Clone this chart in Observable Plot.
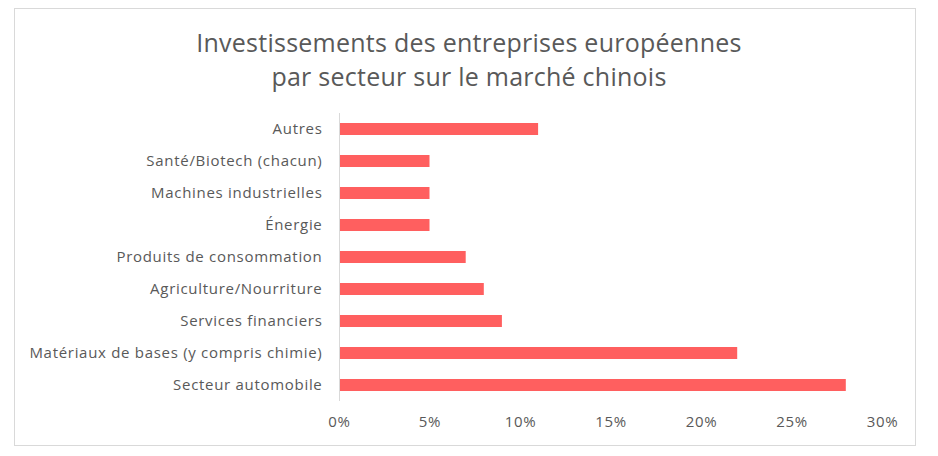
<!DOCTYPE html>
<html>
<head>
<meta charset="utf-8">
<script src="https://cdn.jsdelivr.net/npm/d3@7"></script>
<script src="https://cdn.jsdelivr.net/npm/@observablehq/plot@0.6"></script>
<style>
  html, body { margin: 0; padding: 0; background: #fff; }
  #wrap { position: relative; width: 938px; height: 456px; overflow: hidden; font-family: "Open Sans", sans-serif; }
  #border { position: absolute; left: 14px; top: 8px; width: 902px; height: 438px; border: 1px solid #d9d9d9; box-sizing: border-box; }
  .title { position: absolute; left: 0; width: 938px; text-align: center; color: #595959; font-size: 25px; line-height: 34px; height: 34px; letter-spacing: 0.25px; white-space: nowrap; }
  #t1 { top: 25px; }
  #t2 { top: 59px; }
  #chart { position: absolute; left: 0; top: 100px; }
  #chart svg text { letter-spacing: 0.7px; }
</style>
</head>
<body>
<div id="wrap">
  <div id="border"></div>
  <div class="title" id="t1">Investissements des entreprises européennes</div>
  <div class="title" id="t2">par secteur sur le marché chinois</div>
  <div id="chart"></div>
</div>
<script>
const categories = [
  "Autres",
  "Santé/Biotech (chacun)",
  "Machines industrielles",
  "Énergie",
  "Produits de consommation",
  "Agriculture/Nourriture",
  "Services financiers",
  "Matériaux de bases (y compris chimie)",
  "Secteur automobile"
];
const values = [0.11, 0.05, 0.05, 0.05, 0.07, 0.08, 0.09, 0.22, 0.28];
const xTicks = [0, 0.05, 0.10, 0.15, 0.20, 0.25, 0.30];

const data = categories.map((c, i) => ({category: c, value: values[i]}));
const pct = d => Math.round(d * 100) + "%";

const chart = Plot.plot({
  width: 938,
  height: 356,
  marginLeft: 339,
  marginRight: 56,
  marginTop: 13,
  marginBottom: 55,
  style: { fontFamily: "Open Sans, sans-serif", fontSize: "15px", color: "#595959", background: "transparent" },
  x: { domain: [0, 0.30], ticks: xTicks, tickFormat: pct, label: null },
  y: { domain: categories, paddingInner: 0.62, paddingOuter: 0.31, label: null },
  marks: [
    Plot.barX(data, { x: "value", y: "category", fill: "#ff5f5f" }),
    Plot.ruleX([0], { stroke: "#d9d9d9", strokeWidth: 1 }),
    Plot.axisX({ ticks: xTicks, tickSize: 0, tickPadding: 15, tickFormat: pct, fill: "#595959", fontSize: 15, label: null }),
    Plot.axisY({ tickSize: 0, tickPadding: 17, fill: "#595959", fontSize: 15, label: null })
  ]
});
document.getElementById("chart").appendChild(chart);
</script>
</body>
</html>
